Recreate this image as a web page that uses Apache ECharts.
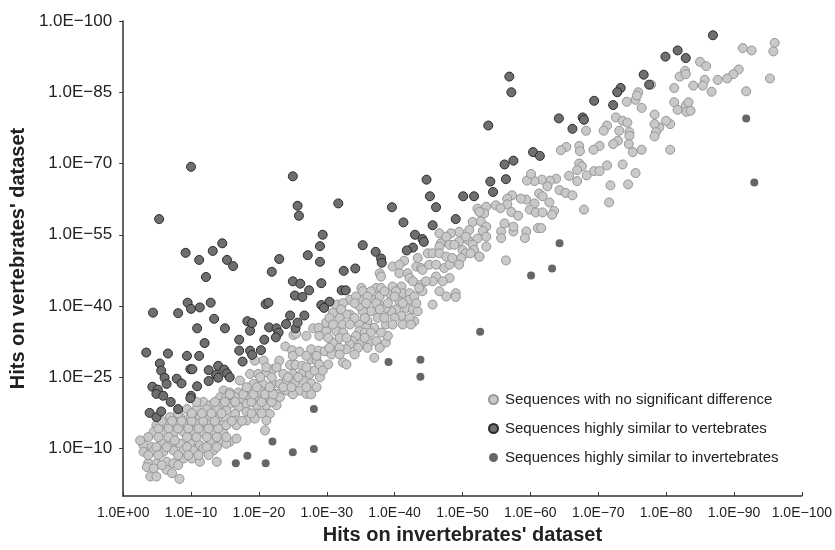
<!DOCTYPE html>
<html>
<head>
<meta charset="utf-8">
<script src="https://cdn.jsdelivr.net/npm/echarts@6/dist/echarts.min.js"></script>
<style>
  html, body { margin: 0; padding: 0; background: #fff; }
  #chart { width: 835px; height: 550px; }
</style>
</head>
<body>
<div id="chart"></div>
<script>
// -log10(E-value) of hits, x = invertebrates' dataset, y = vertebrates' dataset
const xTickValues = [0, 10, 20, 30, 40, 50, 60, 70, 80, 90, 100];
const yTickValues = [10, 25, 40, 55, 70, 85, 100];
const seriesNames = [
  "Sequences with no significant difference",
  "Sequences highly similar to vertebrates",
  "Sequences highly similar to invertebrates"
];

const noDifference = [
  [28.0,35.3],[28.8,35.4],[25.1,33.9],[25.5,34.2],[27.0,33.7],
  [23.9,31.5],[24.9,30.7],[26.0,30.4],[27.7,30.9],[28.8,30.6],
  [19.4,28.5],[20.7,28.5],[23.0,28.5],[24.6,27.6],[25.4,27.6],[26.4,27.4],[27.7,28.8],[28.5,28.5],
  [18.7,25.7],[19.9,25.7],[21.1,26.0],[22.1,26.7],[23.6,25.7],[25.0,25.7],[26.3,25.7],[27.5,25.7],[28.2,26.4],
  [17.2,24.3],[19.2,23.6],[20.6,23.6],[22.1,23.6],[23.1,23.6],[24.1,24.3],[25.3,23.9],[26.5,24.3],[27.7,23.7],
  [14.8,22.2],[15.7,21.8],[17.0,21.8],[18.2,22.2],[20.2,22.2],[21.4,22.2],[22.6,21.5],[24.1,22.2],[26.0,22.2],[27.0,21.5],[28.5,22.9],
  [14.3,20.8],[15.2,20.8],[16.5,20.8],[17.7,20.4],[18.7,20.8],[19.7,20.1],[20.6,20.4],[21.9,20.8],[23.1,20.8],
  [11.8,19.8],[12.8,19.1],[14.3,19.4],[15.7,19.4],[17.0,18.7],[18.2,19.4],[19.7,19.1],[21.1,19.1],[22.6,19.1],
  [9.4,18.3],[10.8,18.3],[12.3,18.3],[13.8,18.3],[15.2,18.0],[16.5,17.3],[18.2,17.7],[19.7,17.3],[21.6,17.3],
  [6.9,16.6],[8.4,16.6],[9.9,16.6],[11.3,16.6],[12.8,16.6],[14.3,16.6],[15.2,16.3],[16.7,15.9],[18.2,15.9],[19.4,16.3],[21.1,15.9],
  [4.9,14.9],[6.4,15.2],[7.9,14.9],[9.4,15.2],[10.8,15.2],[12.3,15.2],[13.8,14.9],[15.2,14.9],[16.7,14.9],
  [4.5,13.5],[5.9,13.5],[7.4,13.1],[8.9,13.5],[10.3,13.8],[11.8,13.5],[13.3,13.8],[14.8,13.1],[20.9,13.8],
  [3.0,10.7],[4.2,10.3],[5.7,11.0],[7.2,11.0],[8.4,11.0],[9.9,11.0],[11.3,10.7],[12.8,11.7],[14.3,11.4],[15.7,11.4],[16.7,12.1],
  [3.0,9.3],[4.5,9.6],[5.9,9.3],[7.4,9.6],[8.9,9.6],[10.3,9.6],[11.8,10.0],[13.3,9.6],[15.2,11.0],
  [3.7,6.9],[4.9,6.9],[6.4,7.2],[7.4,6.9],[8.9,7.9],[10.1,7.9],[11.3,7.2],[13.8,7.2],
  [3.5,6.1],[4.5,5.8],[6.4,5.5],[7.2,4.8],[4.0,4.1],[4.9,4.1],[8.3,3.6],
  // second pass over the dense lower-left cluster
  [5.2,14.2],[6.7,14.2],[8.1,14.2],[9.6,14.2],[11.1,14.2],[12.6,14.2],[14.0,14.2],
  [3.7,12.4],[5.2,12.4],[6.7,12.4],[9.4,12.4],[10.8,12.4],[12.3,12.4],[13.8,12.4],[15.2,12.4],
  [5.7,15.8],[7.2,15.8],[8.6,15.8],[10.1,15.8],[11.8,15.8],[13.5,15.8],[16.0,15.8],[17.5,15.8],
  [8.1,17.4],[10.1,17.4],[11.6,17.4],[13.0,17.4],[14.5,17.4],[18.9,17.4],[20.4,17.4],
  [10.8,19.8],[13.5,19.8],[15.0,19.8],[16.5,19.8],[18.9,19.8],[20.4,19.8],[21.9,19.8],
  [15.7,21.4],[17.7,21.4],[19.2,21.4],[20.9,21.4],[22.1,21.4],[25.0,21.4],[27.7,21.4],
  [18.2,22.9],[19.7,22.9],[21.6,22.9],[23.6,22.9],[24.8,22.9],[27.0,22.9],
  [20.2,25.0],[21.9,25.0],[24.3,25.0],[25.8,25.0],[29.0,25.0],
  [21.1,27.1],[22.6,27.1],[27.0,27.1],[25.0,29.5],[27.0,29.5],[28.5,29.5],
  [4.9,10.3],[6.4,10.3],[9.4,10.3],[12.3,10.3],[13.8,10.3],
  [3.7,8.6],[5.2,8.6],[8.1,8.6],[9.6,8.6],[11.1,8.6],[12.6,8.6],
  [5.7,6.5],[8.1,6.5],[2.5,11.7],[7.6,11.7],
  [52.2,60.5],[51.5,57.7],[49.5,55.6],[48.3,55.3],[46.6,55.3],[51.0,56.0],[52.2,54.2],[50.8,53.9],
  [49.5,53.6],[46.8,53.2],[46.6,52.5],[44.9,51.1],[45.6,51.1],[46.6,51.1],[47.6,50.4],[50.0,51.8],
  [51.5,52.9],[51.7,51.8],[50.5,51.1],[51.2,51.1],[52.5,50.4],[49.8,50.1],[49.5,48.7],
  [41.4,49.5],[39.7,48.3],[40.7,46.9],[41.9,46.9],[43.2,48.3],[43.9,48.0],[44.1,47.6],[42.2,45.9],
  [47.3,48.0],[46.1,46.2],[48.1,45.9],[45.6,45.2],[43.9,44.5],[44.1,43.1],[43.6,43.8],[46.6,43.1],
  [47.6,42.0],[49.0,42.7],[49.0,41.9],[45.6,40.3],[37.8,46.9],[38.0,46.2],[35.1,43.8],[35.8,42.7],
  [37.3,43.8],[38.0,43.8],[39.2,42.7],[39.7,44.1],[41.0,44.1],[41.2,42.7],[42.2,42.7],[40.7,41.0],
  [42.2,41.3],[40.2,39.3],[41.7,39.6],[42.7,39.3],[43.4,38.9],[42.9,36.8],[41.0,37.9],[41.2,36.1],
  [38.7,36.1],[39.5,38.9],[37.8,40.3],[38.7,39.6],[36.5,38.9],[35.3,38.9],[34.8,40.0],[33.4,38.2],
  [32.9,38.2],[31.9,37.5],[30.9,38.6],[31.4,40.3],[33.4,41.3],[35.3,41.3],[36.5,41.7],[37.8,42.0],
  [34.8,36.1],[36.0,36.8],[37.0,35.4],[35.8,35.4],[34.8,34.7],[34.3,33.7],[33.8,32.6],[34.8,31.9],
  [36.3,32.3],[37.3,32.6],[38.7,32.3],[39.0,33.7],[37.8,31.2],[37.0,29.1],[33.4,31.9],[32.9,30.9],
  [31.6,30.5],[30.9,32.3],[31.4,34.7],[29.9,34.7],[28.9,33.7],[29.9,36.5],[29.7,30.5],[30.7,29.8],
  [28.9,27.7],[30.2,27.7],[32.4,28.1],[32.9,27.7],[29.4,26.4],
  // second pass over the middle of the band
  [35.3,43.1],[36.5,43.1],[38.5,43.1],[40.2,43.1],[34.3,42.0],[36.0,42.0],[40.0,42.0],[42.9,42.0],
  [32.4,40.6],[34.1,40.6],[35.8,40.6],[37.3,40.6],[39.0,40.6],[41.2,40.6],[43.2,40.6],
  [32.1,39.3],[37.8,39.3],[30.4,37.5],[34.1,37.5],[35.6,37.5],[37.5,37.5],[38.5,37.5],[40.0,37.5],[42.2,37.5],
  [30.9,36.1],[32.4,36.1],[33.4,36.1],[39.7,36.1],[42.4,36.1],
  [32.4,34.4],[35.6,34.4],[36.5,34.4],[38.0,34.4],[30.2,33.3],[31.9,33.3],[32.9,33.3],[35.6,33.3],
  [30.4,31.2],[31.9,31.2],[34.6,31.2],[36.0,31.2],[31.9,29.8],[34.1,29.8],
  [42.7,45.2],[44.6,45.2],[47.1,45.2],[40.7,48.7],[45.1,48.7],[46.1,48.7],[48.1,48.7],
  [43.4,50.1],[48.5,50.1],[48.1,52.9],[48.8,52.9],[47.6,54.6],[50.5,54.6],
  [96.0,95.4],[95.8,93.6],[95.3,87.9],[91.3,94.3],[92.6,93.8],[91.8,85.2],[90.7,89.8],[89.9,88.8],
  [89.0,87.9],[87.6,87.6],[86.7,85.1],[85.7,87.6],[85.4,86.4],[84.0,86.4],[85.0,91.4],[85.9,90.5],
  [82.8,89.5],[82.0,88.3],[82.9,88.8],[81.2,85.9],[81.2,82.9],[81.7,81.3],[82.9,82.2],[83.3,82.9],
  [83.0,80.9],[83.6,81.1],[80.6,78.3],[80.0,79.0],[79.0,77.6],[78.3,78.3],[78.5,76.6],[78.3,75.7],
  [78.3,80.3],[76.4,81.7],[75.5,83.4],[75.9,85.0],[75.7,84.3],[74.2,83.0],[77.8,86.6],[72.6,79.7],
  [73.6,79.0],[74.3,78.6],[71.3,78.0],[70.8,76.9],[73.1,76.9],[74.6,76.6],[74.6,75.8],[74.5,74.1],
  [72.9,74.8],[72.2,74.1],[75.1,72.4],[76.4,72.9],[80.6,72.9],[68.2,76.9],[70.2,73.7],[69.3,72.9],
  [67.2,73.7],[67.3,72.6],[65.3,73.5],[64.5,72.8],[67.2,70.0],[67.6,69.4],[66.9,68.6],[66.9,66.3],
  [65.7,67.4],[68.3,67.5],[69.4,68.4],[70.2,68.4],[71.3,69.6],[73.6,69.8],[75.5,68.0],[71.8,65.4],
  [74.4,65.6],[71.6,61.8],[67.9,60.3],[63.8,66.8],[62.9,66.4],[62.5,65.2],[61.7,66.6],[60.6,66.3],
  [59.5,66.4],[60.1,67.8],[61.3,63.7],[61.8,63.1],[60.6,61.6],[59.9,60.3],[59.4,62.4],[58.6,62.6],
  [57.3,63.3],[56.6,62.6],[56.6,61.4],[54.9,61.2],[55.6,60.6],[57.2,59.8],[58.2,59.0],[60.8,59.7],
  [61.8,59.7],[63.5,60.0],[63.2,59.2],[62.8,61.8],[64.3,64.4],[65.2,63.8],[66.2,63.3],[53.5,60.9],
  [53.2,59.5],[52.5,59.8],[52.7,57.8],[53.5,56.7],[53.0,55.8],[53.5,54.6],[55.7,55.7],[55.7,54.3],
  [56.2,57.4],[57.5,55.7],[57.5,56.7],[59.4,55.7],[59.2,54.3],[61.1,56.4],[61.6,56.4],[53.5,52.5],
  [52.5,50.4],[56.4,49.6]
];

const vertebrateLike = [
  [10.0,69.3],[5.3,58.3],[25.0,67.3],[25.7,61.1],[25.9,59.0],[31.7,61.6],[29.4,55.0],[29.0,52.6],
  [29.0,49.3],[27.2,50.7],[23.0,49.9],[21.9,47.2],[25.0,45.2],[26.1,44.7],[27.4,43.3],[25.3,42.2],
  [26.4,41.9],[29.2,44.8],[32.5,47.4],[34.2,47.9],[35.3,52.8],[37.2,51.4],[32.2,43.3],[32.8,43.3],
  [30.4,40.9],[29.2,40.2],[29.6,39.6],[9.2,51.2],[11.2,49.7],[13.2,51.6],[14.6,53.2],[15.3,49.7],
  [16.2,48.4],[12.2,46.1],[9.5,40.7],[10.0,39.4],[11.3,39.7],[12.9,40.7],[4.4,38.6],[8.1,38.5],
  [21.0,40.4],[21.4,40.7],[24.6,38.0],[26.7,38.0],[13.4,37.3],[10.9,35.3],[15.0,35.3],[12.0,32.2],
  [3.4,30.2],[6.6,30.0],[9.4,29.5],[11.2,29.5],[5.4,27.9],[5.6,26.4],[6.1,24.9],[6.4,23.6],
  [7.9,24.7],[8.6,23.7],[4.3,23.0],[5.1,22.4],[4.9,21.5],[5.9,21.1],[7.0,19.8],[8.1,18.3],
  [3.9,17.5],[4.9,16.6],[5.6,17.8],[9.9,26.7],[10.2,26.7],[10.9,23.1],[10.0,21.1],[9.9,20.6],
  [12.6,26.5],[14.0,27.4],[13.7,25.5],[14.9,26.6],[15.3,25.8],[15.7,25.0],[12.6,24.2],[14.0,24.9],
  [17.1,32.9],[18.7,34.8],[18.3,36.8],[19.0,36.4],[17.1,30.6],[18.7,30.6],[17.6,28.3],[19.0,29.7],
  [20.3,30.7],[20.8,32.9],[21.5,35.5],[22.6,35.3],[22.9,34.4],[22.5,33.4],[24.0,36.2],[25.4,35.3],
  [25.7,36.5],[44.7,66.6],[39.6,60.8],[45.2,63.1],[46.1,60.8],[50.1,63.1],[51.7,63.1],[54.5,64.0],
  [54.1,66.2],[56.4,66.7],[41.3,57.6],[45.6,57.0],[49.0,58.3],[43.0,55.0],[44.1,54.1],[44.3,53.5],
  [42.7,52.3],[41.8,51.7],[38.0,50.0],[38.1,49.1],[86.9,97.0],[81.7,93.8],[79.9,92.5],[82.9,92.2],
  [76.7,88.7],[77.5,86.6],[73.3,85.9],[72.8,85.0],[69.4,83.2],[72.2,82.3],[64.2,79.5],[67.7,79.7],
  [67.9,79.2],[66.2,77.3],[56.9,88.3],[57.2,85.0],[53.8,78.0],[60.4,72.4],[61.4,71.6],[56.2,69.8],
  [57.5,70.6]
];

const invertebrateLike = [
  [16.6,6.9],[18.3,8.5],[21.0,6.9],[22.0,11.5],[25.0,9.2],[28.1,9.9],[28.1,18.3],[39.1,28.2],
  [43.8,28.7],[43.8,25.1],[52.6,34.6],[60.1,46.4],[63.2,47.9],[64.3,53.2],[91.8,79.5],[93.0,66.0]
];

const font = "'Liberation Sans', Arial, Helvetica, sans-serif";
const expLabel = v => (v === 0 ? "1.0E+00" : "1.0E\u2212" + v);

const chart = echarts.init(document.getElementById("chart"), null, { renderer: "canvas" });

chart.setOption({
  backgroundColor: "#fff",
  animation: false,
  textStyle: { fontFamily: font },
  grid: { left: 122, right: 29, top: 21, bottom: 51 },
  legend: {
    orient: "vertical",
    left: 483,
    top: 387,
    itemWidth: 9,
    itemHeight: 9,
    itemGap: 14,
    icon: "circle",
    textStyle: { fontSize: 15, color: "#222", fontFamily: font, padding: [0, 0, 0, 2] },
    data: seriesNames
  },
  xAxis: {
    type: "value",
    min: 0,
    max: 100,
    interval: 10,
    name: "Hits on invertebrates' dataset",
    nameLocation: "middle",
    nameGap: 29,
    nameTextStyle: { fontSize: 20, fontWeight: "bold", color: "#222", fontFamily: font },
    axisLine: { show: true, lineStyle: { color: "#333", width: 1.5 } },
    axisTick: { show: true, inside: true, length: 4, customValues: xTickValues, lineStyle: { color: "#333" } },
    axisLabel: {
      color: "#222",
      fontSize: 14,
      margin: 10,
      customValues: xTickValues,
      formatter: expLabel
    },
    splitLine: { show: false }
  },
  yAxis: {
    type: "value",
    min: 0,
    max: 100,
    name: "Hits on vertebrates' dataset",
    nameLocation: "middle",
    nameGap: 93,
    nameTextStyle: { fontSize: 20, fontWeight: "bold", color: "#222", fontFamily: font },
    axisLine: { show: true, lineStyle: { color: "#333", width: 1.5 } },
    axisTick: { show: true, length: 4, customValues: yTickValues, lineStyle: { color: "#333" } },
    axisLabel: {
      color: "#222",
      fontSize: 17,
      margin: 11,
      customValues: yTickValues,
      formatter: v => "1.0E\u2212" + v
    },
    splitLine: { show: false }
  },
  series: [
    {
      name: seriesNames[0],
      type: "scatter",
      symbolSize: 9,
      data: noDifference,
      itemStyle: { color: "#c9c9c9", borderColor: "#959595", borderWidth: 1, opacity: 1 }
    },
    {
      name: seriesNames[1],
      type: "scatter",
      symbolSize: 9,
      data: vertebrateLike,
      itemStyle: { color: "#6f6f6f", borderColor: "#2b2b2b", borderWidth: 1, opacity: 1 }
    },
    {
      name: seriesNames[2],
      type: "scatter",
      symbolSize: 8,
      data: invertebrateLike,
      itemStyle: { color: "#666666", borderWidth: 0, opacity: 1 }
    }
  ]
});
</script>
</body>
</html>
